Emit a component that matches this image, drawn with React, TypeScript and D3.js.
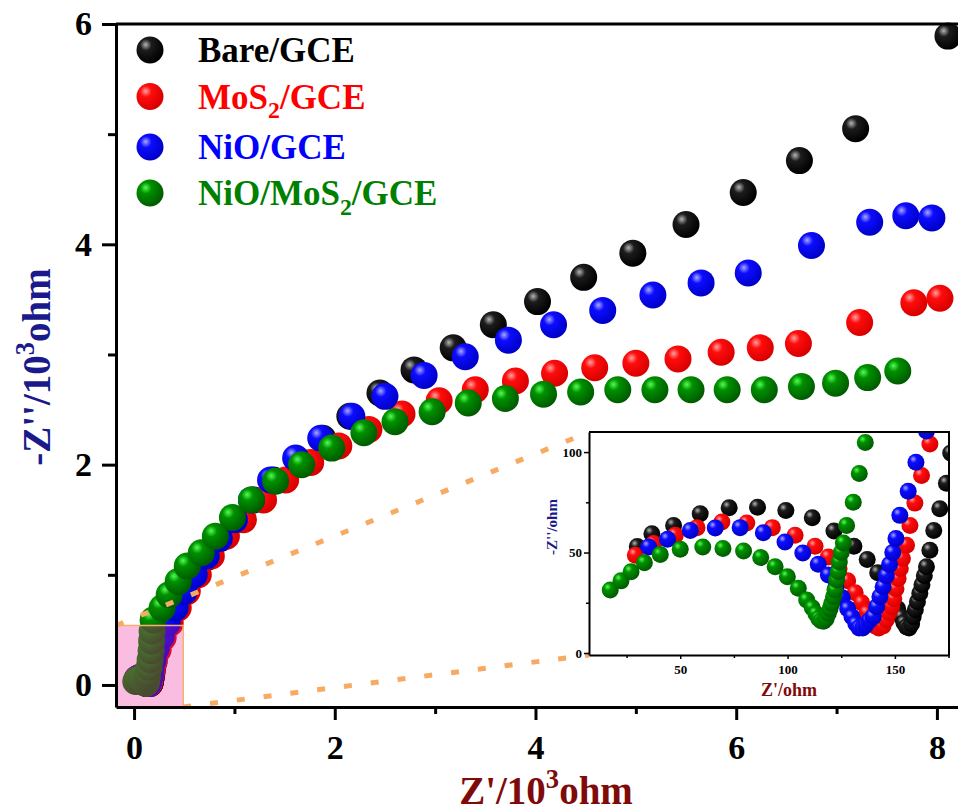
import React, { useEffect, useRef } from 'react'
import * as d3 from 'd3'

// series
const seriesNames = ['Bare/GCE', 'MoS_2/GCE', 'NiO/GCE', 'NiO/MoS_2/GCE']
const seriesColors = ['#000000', '#ff0000', '#0000ff', '#008000']
const sphereStops = [
  ['#b4b4b4', '#1c1c1c', '#000000'],
  ['#ffa0a0', '#ff0c0c', '#d80000'],
  ['#a8a8ff', '#0c0cff', '#0000c8'],
  ['#50ff50', '#009000', '#005c00'],
]

// low-frequency region, ohm  [Z', -Z'']
const bareInset = [[30, 53], [36.8, 59.4], [46.9, 63.5], [59.3, 69.3], [72.8, 72.3], [86, 72.6], [99.2, 70.9], [111.5, 67.3], [121.6, 60.7], [130.9, 53.1], [137.1, 46.5], [142, 40], [146, 33], [149, 27], [151.3, 22], [153, 18], [154.2, 15], [155.4, 13], [156.6, 12.5], [157.8, 14.5], [158.5, 18.1], [159.5, 21.5], [160.5, 25.5], [161.6, 29.7], [162.6, 34], [163.7, 38.5], [164.7, 42.9], [166.3, 51.1], [168.1, 61], [170.9, 71.8], [174, 84.5], [176, 99.5]]
const mos2Inset = [[29.1, 48.7], [37.6, 54.5], [47.7, 58.6], [57.8, 62.4], [69.4, 65.2], [81, 64.7], [92.9, 62.4], [103.5, 58.6], [112.8, 53.1], [119, 47.8], [124, 42], [128, 36], [131.5, 30], [134.5, 25], [137, 20], [139, 16], [140.8, 13.5], [142.5, 12.5], [144.5, 13.5], [146, 16.5], [147.3, 20], [148.5, 23], [149.5, 27], [150.5, 32], [151.5, 37.1], [152.5, 42], [153.5, 47], [155.4, 53.6], [157, 63.5], [159.3, 74.6], [162.4, 88.3], [166.3, 104]]
const nioInset = [[35.3, 52.8], [44.1, 56.6], [54.7, 61], [66.3, 62.2], [77.9, 62.4], [88.7, 59.9], [98.8, 55.3], [107.1, 49.8], [114.3, 44.2], [119, 38.8], [122.5, 33], [125.5, 27.5], [128, 22], [130, 18], [131.8, 14.5], [133.3, 12.5], [135, 12.5], [136.5, 14], [138, 16], [139.9, 18.1], [141.5, 23], [143, 28], [144.5, 33], [146, 38.5], [147.5, 44], [149, 50], [150.5, 57], [152.3, 68.5], [156.2, 80.5], [159.8, 94.9], [164.7, 110.5]]
const compInset = [[17.4, 31.3], [22.4, 35.9], [27.1, 40.4], [33.3, 44.9], [40.7, 49], [50, 51.6], [60.5, 52.8], [69.9, 52], [79.5, 50.8], [87.5, 47.5], [94.2, 42.9], [99.9, 37.9], [105, 32.2], [108.9, 26.4], [111.5, 22.5], [113.2, 19.5], [114.5, 17.2], [115.6, 16], [116.8, 15.8], [118, 17], [119, 19.8], [119.8, 22], [120.6, 24.8], [121.4, 28], [122.1, 31.3], [122.9, 36.3], [123.6, 40.4], [124.1, 45.3], [125, 50], [126, 54.8], [127.5, 63.5], [130.6, 75], [133.4, 89.4], [136.2, 104.8]]

// rest of the spectrum, 10^3 ohm
const bareMain = [[0.185, 0.14], [0.2, 0.21], [0.23, 0.31], [0.28, 0.43], [0.34, 0.56], [0.42, 0.7], [0.51, 0.85], [0.61, 1], [0.73, 1.16], [0.86, 1.33], [1.01, 1.5], [1.19, 1.68], [1.39, 1.86], [1.62, 2.05], [1.88, 2.24], [2.15, 2.44], [2.45, 2.65], [2.79, 2.86], [3.18, 3.06], [3.58, 3.27], [4.02, 3.48], [4.48, 3.7], [4.97, 3.92], [5.5, 4.18], [6.07, 4.47], [6.63, 4.76], [7.19, 5.05], [8.11, 5.89]]
const mos2Main = [[0.18, 0.14], [0.2, 0.22], [0.24, 0.32], [0.29, 0.43], [0.36, 0.56], [0.44, 0.7], [0.53, 0.85], [0.64, 1], [0.77, 1.17], [0.92, 1.35], [1.09, 1.5], [1.29, 1.68], [1.51, 1.86], [1.76, 2.02], [2.04, 2.17], [2.34, 2.32], [2.67, 2.46], [3.04, 2.58], [3.4, 2.68], [3.8, 2.76], [4.19, 2.83], [4.59, 2.88], [5, 2.92], [5.42, 2.96], [5.85, 3.02], [6.24, 3.06], [6.62, 3.1], [7.23, 3.29], [7.77, 3.47], [8.03, 3.51]]
const nioMain = [[0.17, 0.15], [0.19, 0.23], [0.22, 0.33], [0.27, 0.44], [0.33, 0.56], [0.41, 0.7], [0.5, 0.85], [0.6, 1], [0.72, 1.17], [0.85, 1.33], [1, 1.5], [1.17, 1.68], [1.36, 1.86], [1.61, 2.06], [1.86, 2.24], [2.17, 2.44], [2.5, 2.62], [2.89, 2.81], [3.3, 2.98], [3.73, 3.13], [4.18, 3.27], [4.67, 3.4], [5.17, 3.54], [5.65, 3.65], [6.12, 3.74], [6.75, 3.99], [7.33, 4.2], [7.69, 4.26], [7.95, 4.24]]
const compMain = [[0.15, 0.16], [0.16, 0.23], [0.17, 0.31], [0.175, 0.4], [0.18, 0.49], [0.19, 0.59], [0.28, 0.7], [0.35, 0.82], [0.44, 0.94], [0.53, 1.08], [0.67, 1.2], [0.81, 1.35], [0.98, 1.52], [1.17, 1.68], [1.41, 1.85], [1.67, 2], [1.97, 2.15], [2.29, 2.29], [2.6, 2.39], [2.97, 2.48], [3.33, 2.56], [3.7, 2.6], [4.08, 2.64], [4.45, 2.66], [4.82, 2.68], [5.19, 2.68], [5.55, 2.68], [5.91, 2.68], [6.28, 2.68], [6.65, 2.71], [6.99, 2.74], [7.31, 2.79], [7.61, 2.85]]

const insetData = [bareInset, mos2Inset, nioInset, compInset]
const mainData = [bareMain, mos2Main, nioMain, compMain]

// ticks
const xMajor = [0, 2, 4, 6, 8]
const xMinor = [1, 3, 5, 7]
const yMajor = [0, 2, 4, 6]
const yMinor = [1, 3, 5]
const ixMajor = [50, 100, 150]
const ixMinor = [25, 75, 125, 175]
const iyMajor = [0, 50, 100]
const iyMinor = [25, 75]

const SERIF = "'Liberation Serif', 'Times New Roman', serif"
const fmt = d3.format('d')

// "_2" -> subscript 2, "^3" -> superscript 3
const addRich = (text, s, size) => {
  const parts = s.split(/([_^].)/).filter(p => p !== '')
  let shift = 0
  parts.forEach(p => {
    const t = text.append('tspan')
    if (p[0] === '_' || p[0] === '^') {
      const d = p[0] === '_' ? size * 0.28 : -size * 0.4
      t.attr('dy', d - shift).attr('font-size', size * 0.68).text(p[1])
      shift = d
    } else {
      t.attr('dy', -shift).text(p)
      shift = 0
    }
  })
}

const Chart = () => {
  const ref = useRef(null)
  const width = 958
  const height = 812

  useEffect(() => {
    const svg = d3.select(ref.current)
    svg.selectAll('*').remove()

    const x = d3.scaleLinear().domain([-0.18, 8.24]).range([116, 961])
    const y = d3.scaleLinear().domain([-0.2, 6]).range([707, 24])
    const ix = d3.scaleLinear().domain([7.5, 175.2]).range([589, 949])
    const iy = d3.scaleLinear().domain([-1, 110]).range([655, 432])

    const defs = svg.append('defs')
    sphereStops.forEach((st, i) => {
      const g = defs.append('radialGradient').attr('id', 'sph' + i)
        .attr('cx', 0.36).attr('cy', 0.34).attr('r', 0.66).attr('fx', 0.34).attr('fy', 0.3)
      g.append('stop').attr('offset', 0).attr('stop-color', st[0])
      g.append('stop').attr('offset', 0.32).attr('stop-color', st[1])
      g.append('stop').attr('offset', 1).attr('stop-color', st[2])
    })
    defs.append('clipPath').attr('id', 'insetClip').append('rect')
      .attr('x', ix.range()[0]).attr('y', iy.range()[1])
      .attr('width', ix.range()[1] - ix.range()[0]).attr('height', iy.range()[0] - iy.range()[1])

    // main points (inset region converted to 10^3 ohm)
    mainData.forEach((d, i) => {
      const pts = insetData[i].map(p => [p[0] / 1000, p[1] / 1000]).concat(d)
      svg.append('g').selectAll('circle').data(pts).join('circle')
        .attr('cx', p => x(p[0])).attr('cy', p => y(p[1])).attr('r', 13.5)
        .attr('fill', `url(#sph${i})`)
    })

    // zoom box
    svg.append('rect')
      .attr('x', x(-0.18)).attr('y', y(0.54))
      .attr('width', x(0.49) - x(-0.18)).attr('height', y(-0.2) - y(0.54))
      .attr('fill', '#ee269b').attr('fill-opacity', 0.3)
      .attr('stroke', '#f7b06e').attr('stroke-width', 1.5)

    const dash = svg.append('g').attr('stroke', '#f6aa62').attr('stroke-width', 5)
      .attr('stroke-dasharray', '8 19')
    dash.append('line').attr('x1', x(-0.18)).attr('y1', y(0.54))
      .attr('x2', ix.range()[0]).attr('y2', iy.range()[1])
    dash.append('line').attr('x1', x(0.49)).attr('y1', y(-0.2))
      .attr('x2', ix.range()[0]).attr('y2', iy.range()[0])

    // main axes
    const axisStyle = (g, size) => {
      g.select('.domain').attr('stroke-width', 3)
      g.selectAll('.tick line').attr('stroke-width', 3)
      g.selectAll('text').attr('font-family', SERIF).attr('font-weight', 'bold')
        .attr('font-size', size).attr('fill', '#000')
    }
    const xa = svg.append('g').attr('transform', 'translate(0,707)')
      .call(d3.axisBottom(x).tickValues(xMajor).tickFormat(fmt).tickSize(13).tickSizeOuter(0).tickPadding(15))
    axisStyle(xa, 34)
    const xm = svg.append('g').attr('transform', 'translate(0,707)')
      .call(d3.axisBottom(x).tickValues(xMinor).tickSize(7).tickFormat(() => ''))
    xm.select('.domain').remove()
    xm.selectAll('.tick line').attr('stroke-width', 3)

    const ya = svg.append('g').attr('transform', 'translate(116,0)')
      .call(d3.axisLeft(y).tickValues(yMajor).tickFormat(fmt).tickSize(14).tickSizeOuter(0).tickPadding(10))
    axisStyle(ya, 34)
    const ym = svg.append('g').attr('transform', 'translate(116,0)')
      .call(d3.axisLeft(y).tickValues(yMinor).tickSize(8).tickFormat(() => ''))
    ym.select('.domain').remove()
    ym.selectAll('.tick line').attr('stroke-width', 3)

    svg.append('line').attr('x1', 116).attr('x2', 961).attr('y1', 24).attr('y2', 24)
      .attr('stroke', '#000').attr('stroke-width', 3)
    svg.append('line').attr('x1', 961).attr('x2', 961).attr('y1', 24).attr('y2', 707)
      .attr('stroke', '#000').attr('stroke-width', 3)

    const xt = svg.append('text').attr('x', 546).attr('y', 804).attr('text-anchor', 'middle')
      .attr('font-family', SERIF).attr('font-weight', 'bold').attr('font-size', 39).attr('fill', '#7f0a0a')
    addRich(xt, "Z'/10^3ohm", 39)
    const yt = svg.append('text').attr('transform', 'translate(50,367) rotate(-90)').attr('text-anchor', 'middle')
      .attr('font-family', SERIF).attr('font-weight', 'bold').attr('font-size', 39).attr('fill', '#1a1a8c')
    addRich(yt, "-Z''/10^3ohm", 39)

    // legend
    const rows = [50, 96.5, 147, 193]
    seriesNames.forEach((name, i) => {
      svg.append('circle').attr('cx', 150).attr('cy', rows[i]).attr('r', 13.5).attr('fill', `url(#sph${i})`)
      const t = svg.append('text').attr('x', 198).attr('y', rows[i] + 12)
        .attr('font-family', SERIF).attr('font-weight', 'bold').attr('font-size', 35).attr('fill', seriesColors[i])
      addRich(t, name, 35)
    })

    // inset
    const inset = svg.append('g')
    inset.append('rect').attr('x', ix.range()[0]).attr('y', iy.range()[1])
      .attr('width', ix.range()[1] - ix.range()[0]).attr('height', iy.range()[0] - iy.range()[1])
      .attr('fill', '#fff')
    const ip = inset.append('g').attr('clip-path', 'url(#insetClip)')
    insetData.forEach((d, i) => {
      ip.append('g').selectAll('circle').data(d).join('circle')
        .attr('cx', p => ix(p[0])).attr('cy', p => iy(p[1])).attr('r', 8.5)
        .attr('fill', `url(#sph${i})`)
    })
    const insetAxis = (g) => {
      g.select('.domain').attr('stroke-width', 2)
      g.selectAll('.tick line').attr('stroke-width', 1.5)
      g.selectAll('text').attr('font-family', SERIF).attr('font-weight', 'bold')
        .attr('font-size', 13).attr('fill', '#000')
    }
    const ixa = inset.append('g').attr('transform', `translate(0,${iy.range()[0]})`)
      .call(d3.axisBottom(ix).tickValues(ixMajor).tickFormat(fmt).tickSize(4).tickSizeOuter(0).tickPadding(6))
    insetAxis(ixa)
    const ixm = inset.append('g').attr('transform', `translate(0,${iy.range()[0]})`)
      .call(d3.axisBottom(ix).tickValues(ixMinor).tickSize(3).tickFormat(() => ''))
    ixm.select('.domain').remove()
    ixm.selectAll('.tick line').attr('stroke-width', 1.5)
    const iya = inset.append('g').attr('transform', `translate(${ix.range()[0]},0)`)
      .call(d3.axisLeft(iy).tickValues(iyMajor).tickFormat(fmt).tickSize(5).tickSizeOuter(0).tickPadding(2))
    insetAxis(iya)
    const iym = inset.append('g').attr('transform', `translate(${ix.range()[0]},0)`)
      .call(d3.axisLeft(iy).tickValues(iyMinor).tickSize(3).tickFormat(() => ''))
    iym.select('.domain').remove()
    iym.selectAll('.tick line').attr('stroke-width', 1.5)
    inset.append('path')
      .attr('d', `M${ix.range()[0]},${iy.range()[1]}H${ix.range()[1]}V${iy.range()[0]}`)
      .attr('fill', 'none').attr('stroke', '#000').attr('stroke-width', 2)

    const ixt = inset.append('text').attr('x', 789).attr('y', 696).attr('text-anchor', 'middle')
      .attr('font-family', SERIF).attr('font-weight', 'bold').attr('font-size', 18).attr('fill', '#7f0a0a')
    addRich(ixt, "Z'/ohm", 18)
    const iyt = inset.append('text').attr('transform', 'translate(557,527) rotate(-90)').attr('text-anchor', 'middle')
      .attr('font-family', SERIF).attr('font-weight', 'bold').attr('font-size', 15).attr('fill', '#1a1a8c')
    addRich(iyt, "-Z''/ohm", 15)
  }, [])

  return (
    <svg ref={ref} width={width} height={height}
      style={{ position: 'absolute', left: 0, top: 0, background: '#fff' }} />
  )
}

export default function App() {
  return <Chart />
}
